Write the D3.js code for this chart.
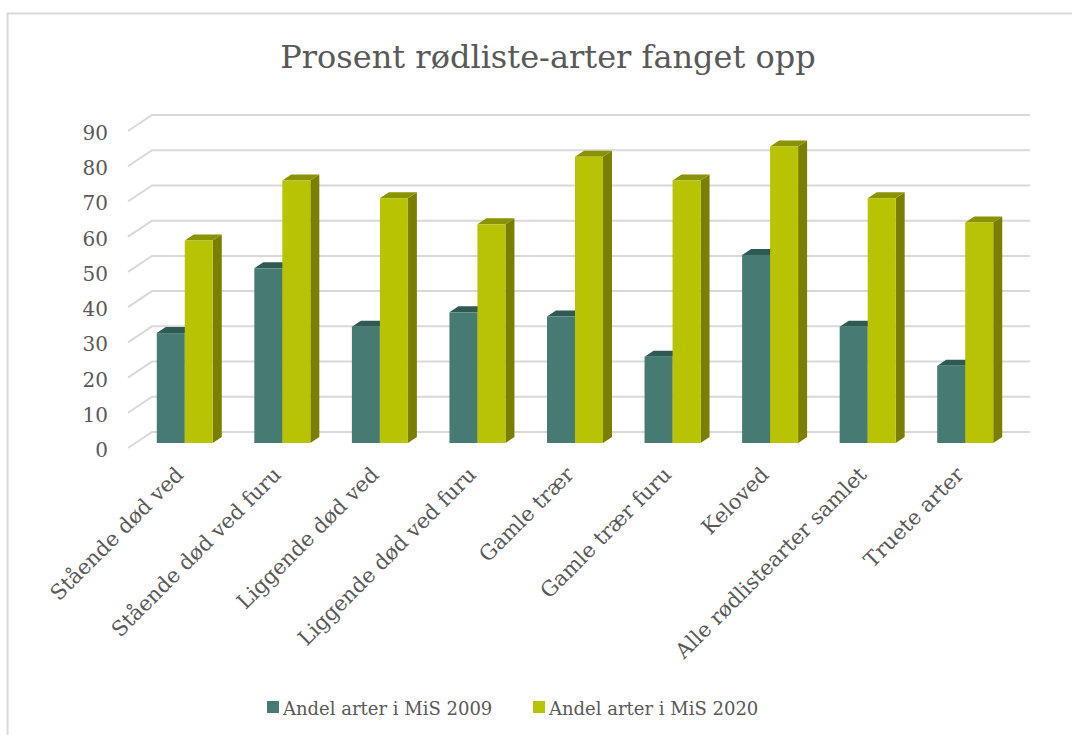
<!DOCTYPE html>
<html>
<head>
<meta charset="utf-8">
<script src="https://cdn.jsdelivr.net/npm/d3@7"></script>
<style>
  html, body { margin: 0; padding: 0; background: #fff; }
  svg { display: block; }
  text { font-family: "DejaVu Serif", "Liberation Serif", serif; fill: #595959; }
</style>
</head>
<body>
<svg id="chart" width="1072" height="735"></svg>
<script>
// Data
const categories = [
  "Stående død ved", "Stående død ved furu", "Liggende død ved",
  "Liggende død ved furu", "Gamle trær", "Gamle trær furu",
  "Keloved", "Alle rødlistearter samlet", "Truete arter"
];
const seriesNames = ["Andel arter i MiS 2009", "Andel arter i MiS 2020"];
const values2009 = [31.2, 49.6, 33.0, 37.1, 35.9, 24.5, 53.4, 33.0, 21.9];
const values2020 = [57.5, 74.5, 69.5, 62.1, 81.3, 74.5, 84.2, 69.5, 62.6];
const yTicks = [0, 10, 20, 30, 40, 50, 60, 70, 80, 90];

const title = "Prosent rødliste-arter fanget opp";

// Styling
const colors = {
  front: ["#467a72", "#b8c303"],
  top:   ["#2f5a54", "#8a9300"],
  side:  ["#2f5a54", "#7b7f00"]
};

const svg = d3.select("#chart");

// Chart frame (left and top edges)
svg.append("path")
  .attr("d", "M7.5,735 L7.5,13.5 L1072,13.5")
  .attr("fill", "none")
  .attr("stroke", "#d9d9d9")
  .attr("stroke-width", 2);

// Title
svg.append("text")
  .attr("x", 548).attr("y", 68)
  .attr("text-anchor", "middle")
  .style("font-size", "32px")
  .text(title);

// Back wall geometry and depth projection
const wallLeft = 152, wallRight = 1030;
const y = d3.scaleLinear().domain([0, 90]).range([432, 115]);
const wallDepth = { dx: -24, dy: 16 };      // back wall -> front edge of side wall
const barFront = { dx: -16, dy: 11 };       // back wall -> front face of bars
const barBack  = { dx: -7,  dy: 5 };        // back wall -> back face of bars

const x0 = d3.scaleBand().domain(categories).range([wallLeft, wallRight]).padding(0);
const x1 = d3.scaleBand().domain(seriesNames).range([0, x0.bandwidth()])
  .paddingInner(0).paddingOuter(0.742);

// Gridlines: diagonal on the side wall + horizontal on the back wall
const grid = svg.append("g").attr("class", "grid");
yTicks.forEach(t => {
  const yy = y(t);
  grid.append("path")
    .attr("d", `M${wallLeft + wallDepth.dx},${yy + wallDepth.dy} L${wallLeft},${yy} L${wallRight},${yy}`)
    .attr("fill", "none")
    .attr("stroke", "#d9d9d9")
    .attr("stroke-width", 2);
});

// Y axis labels
svg.append("g").selectAll("text")
  .data(yTicks)
  .join("text")
  .attr("x", 108)
  .attr("y", d => y(d) + wallDepth.dy + 2)
  .attr("dy", "0.35em")
  .attr("text-anchor", "end")
  .style("font-size", "20px")
  .text(d => d);

// 3D columns
const bars = svg.append("g").attr("class", "bars");
const seriesValues = [values2009, values2020];
categories.forEach((cat, i) => {
  seriesNames.forEach((s, si) => {
    const v = seriesValues[si][i];
    const bw = x1.bandwidth();
    const xl = x0(cat) + x1(s) + barFront.dx;
    const xr = xl + bw;
    const yb = y(0) + barFront.dy;
    const yt = y(v) + barFront.dy;
    const ddx = barBack.dx - barFront.dx, ddy = barBack.dy - barFront.dy;
    const g = bars.append("g");
    // right side face
    g.append("path")
      .attr("d", `M${xr},${yb} L${xr + ddx},${yb + ddy} L${xr + ddx},${yt + ddy} L${xr},${yt} Z`)
      .attr("fill", colors.side[si]);
    // top face
    g.append("path")
      .attr("d", `M${xl},${yt} L${xl + ddx},${yt + ddy} L${xr + ddx},${yt + ddy} L${xr},${yt} Z`)
      .attr("fill", colors.top[si]);
    // front face
    g.append("rect")
      .attr("x", xl).attr("y", yt)
      .attr("width", bw).attr("height", yb - yt)
      .attr("fill", colors.front[si]);
  });
});

// Category labels, rotated
svg.append("g").selectAll("text")
  .data(categories)
  .join("text")
  .attr("transform", d => {
    const cx = x0(d) + x0.bandwidth() / 2 + barFront.dx;
    return `translate(${cx},${476}) rotate(-45)`;
  })
  .attr("text-anchor", "end")
  .style("font-size", "21px")
  .text(d => d);

// Legend
const legend = svg.append("g");
const legendX = [267, 533];
seriesNames.forEach((s, si) => {
  legend.append("rect")
    .attr("x", legendX[si]).attr("y", 701)
    .attr("width", 12).attr("height", 12)
    .attr("fill", colors.front[si]);
  legend.append("text")
    .attr("x", legendX[si] + 16).attr("y", 715)
    .style("font-size", "18px")
    .text(s);
});
</script>
</body>
</html>
